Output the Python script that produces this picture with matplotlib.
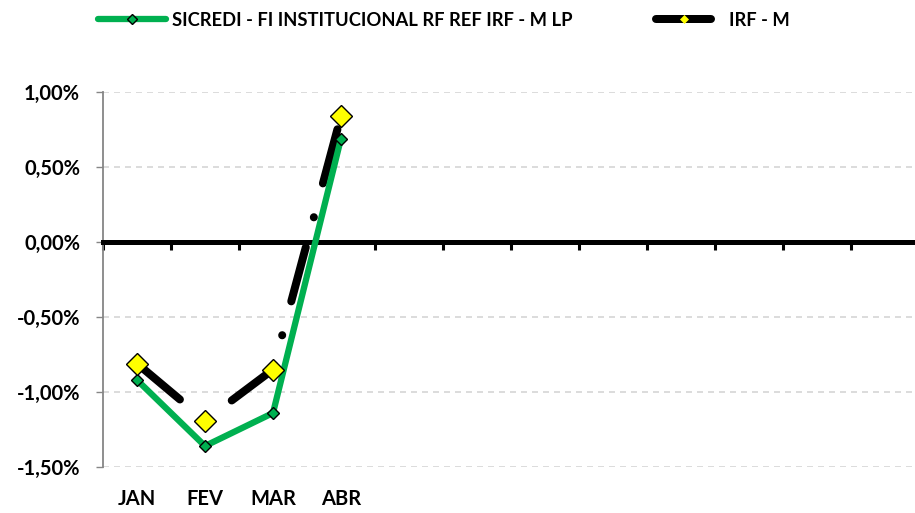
import matplotlib
matplotlib.use("Agg")
import matplotlib.pyplot as plt
from matplotlib.lines import Line2D
from matplotlib.ticker import FuncFormatter
import numpy as np

plt.rcParams['font.family'] = ['Lato', 'DejaVu Sans']
plt.rcParams['font.weight'] = 'bold'
plt.rcParams['lines.scale_dashes'] = False

# ---- data ----
categories = ["JAN", "FEV", "MAR", "ABR", "", "", "", "", "", "", "", ""]
sicredi = [-0.92, -1.36, -1.14, 0.69]
irfm = [-0.81, -1.19, -0.85, 0.84]
series_names = ["SICREDI - FI INSTITUCIONAL RF REF IRF - M LP", "IRF - M"]
yticks = [-1.5, -1.0, -0.5, 0.0, 0.5, 1.0]

W, H = 915, 513
DPI = 100
PX = 72.0 / DPI  # points per pixel

fig = plt.figure(figsize=(W / DPI, H / DPI), dpi=DPI)
ax_left, ax_right, ax_top, ax_bot = 103, 919, 92, 467
ax = fig.add_axes([ax_left / W, 1 - ax_bot / H, (ax_right - ax_left) / W, (ax_bot - ax_top) / H])

x = np.arange(len(categories))
xs = x[:len(sicredi)]

green = "#00B050"

# IRF-M line (black, long dash-dot)
ax.plot(xs, irfm, color="black", lw=8 * PX, solid_capstyle="round",
        dash_capstyle="round",
        linestyle=(0, (56 * PX, 31 * PX, 0.1, 35 * PX)), zorder=3)
# SICREDI line
ax.plot(xs, sicredi, color=green, lw=6.3 * PX, solid_capstyle="round",
        solid_joinstyle="round", zorder=4,
        marker="D", markersize=6.6, markerfacecolor=green,
        markeredgecolor="black", markeredgewidth=1.0)
# IRF-M markers
ax.plot(xs, irfm, linestyle="none", marker="D", markersize=11.5,
        markerfacecolor="#FFFF00", markeredgecolor="black",
        markeredgewidth=1.0, zorder=5)

ax.set_xlim(-0.5, len(categories) - 0.5)
ax.set_ylim(min(yticks), max(yticks))

# y axis
ax.set_yticks(yticks)
ax.yaxis.set_major_formatter(FuncFormatter(lambda v, p: ("%.2f%%" % v).replace(".", ",")))
ax.tick_params(axis="y", length=5, width=1.0, color="#868686", pad=11.5,
               labelsize=14.5)
for lab in ax.get_yticklabels():
    lab.set_fontweight("bold")
ax.grid(axis="y", color="#D9D9D9", lw=1.3, linestyle=(0, (6 * PX, 5 * PX)))
ax.set_axisbelow(True)

for s in ["top", "right"]:
    ax.spines[s].set_visible(False)
ax.spines["left"].set_color("#868686")
ax.spines["left"].set_linewidth(1.3)

# zero axis line with ticks at category boundaries
ax.spines["bottom"].set_position(("data", 0))
ax.spines["bottom"].set_linewidth(5 * PX)
ax.spines["bottom"].set_color("black")
ax.set_xticks(np.arange(len(categories) + 1) - 0.5)
ax.set_xticklabels([])
ax.tick_params(axis="x", length=6, width=2.2, color="black", direction="out")

# category labels at the bottom
sec = ax.secondary_xaxis("bottom")
sec.set_xticks(x)
sec.set_xticklabels(categories, fontsize=14.5, fontweight="bold")
sec.tick_params(axis="x", length=0, pad=16)
sec.spines["bottom"].set_visible(False)

# legend (two separate entries)
h1 = Line2D([], [], color=green, lw=6.3 * PX, solid_capstyle="round",
            marker="D", markersize=5, markerfacecolor=green,
            markeredgecolor="black", markeredgewidth=1.0)
h2 = Line2D([], [], color="black", lw=8 * PX, solid_capstyle="round",
            marker="D", markersize=4.5, markerfacecolor="#FFFF00",
            markeredgecolor="#FFFF00", markeredgewidth=0.5)
fs = 13.2
fpx = fs / PX
ly = 1 - 20 / H
leg1 = fig.legend([h1], [series_names[0]], loc="center left",
                  bbox_to_anchor=(98 / W, ly), frameon=False,
                  prop={"weight": "bold", "size": fs},
                  handlelength=68 / fpx, handletextpad=6 / fpx,
                  borderpad=0, borderaxespad=0)
leg2 = fig.legend([h2], [series_names[1]], loc="center left",
                  bbox_to_anchor=(656 / W, ly), frameon=False,
                  prop={"weight": "bold", "size": fs},
                  handlelength=55 / fpx, handletextpad=18 / fpx,
                  borderpad=0, borderaxespad=0)

fig.savefig("out.png", dpi=DPI)
